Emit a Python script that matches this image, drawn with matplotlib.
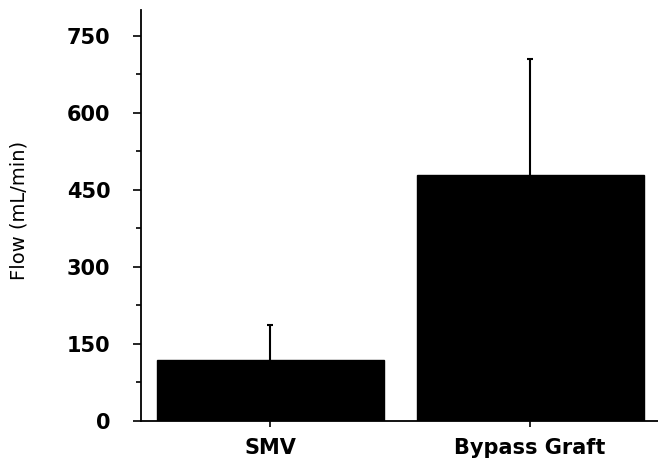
import matplotlib
matplotlib.use("Agg")
import matplotlib.pyplot as plt
from matplotlib.ticker import MultipleLocator

# flow data
groups = ["SMV", "Bypass Graft"]
flow_mean = [119, 480]
flow_err = [67, 225]

fig = plt.figure(figsize=(6.58, 4.59), dpi=100)
ax = fig.add_axes([0.2143, 0.0828, 0.7857, 0.895])

x = [0, 1]
# error bars behind the bars so only the upper half shows
ax.errorbar(x, flow_mean, yerr=flow_err, fmt="none", ecolor="black",
            elinewidth=1.5, capsize=2.5, capthick=1.5, zorder=1)
ax.bar(x, flow_mean, width=0.873, color="black", edgecolor="black", zorder=2)

ax.set_xlim(-0.498, 1.492)
ax.set_ylim(0, 800)
ax.yaxis.set_major_locator(MultipleLocator(150))
ax.yaxis.set_minor_locator(MultipleLocator(75))
ax.set_xticks(x)
ax.set_xticklabels(groups, fontsize=15, fontweight="bold")
for lab in ax.get_yticklabels():
    lab.set_fontsize(15)
    lab.set_fontweight("bold")

ax.spines["top"].set_visible(False)
ax.spines["right"].set_visible(False)
ax.spines["left"].set_linewidth(1.3)
ax.spines["bottom"].set_linewidth(1.3)
ax.tick_params(axis="y", which="major", length=6, width=1.2, pad=16)
ax.tick_params(axis="y", which="minor", length=3.5, width=1.2)
ax.tick_params(axis="x", which="major", length=4, width=1.2, pad=8)

ax.set_ylabel("Flow (mL/min)", fontsize=14, va="center")
ax.yaxis.set_label_coords(-0.236, 0.513)

fig.savefig("out.png", dpi=100)
